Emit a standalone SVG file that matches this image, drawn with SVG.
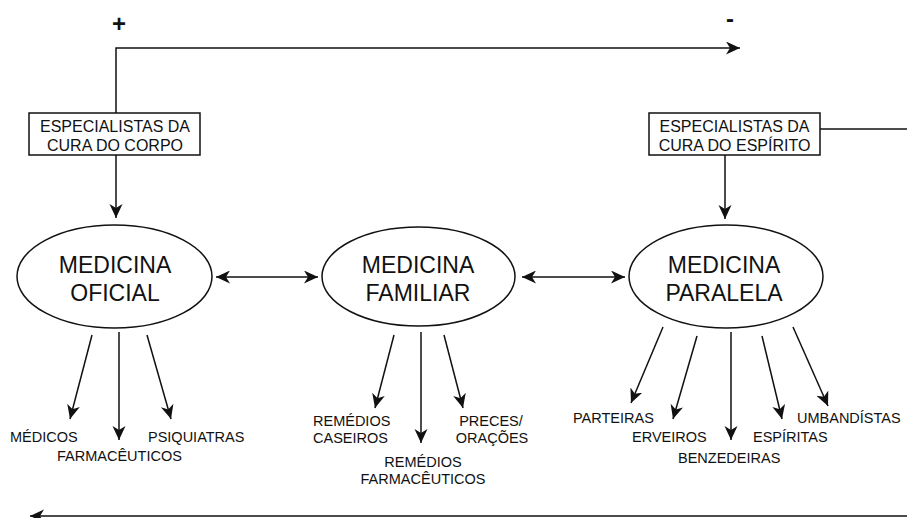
<svg xmlns="http://www.w3.org/2000/svg" width="907" height="518" viewBox="0 0 907 518">
<style>
  text { font-family: "Liberation Sans", Arial, sans-serif; fill: #111; }
  .big { font-size: 23px; text-anchor: middle; }
  .box { font-size: 16px; text-anchor: middle; }
  .lbl { font-size: 14.5px; }
  .mid { text-anchor: middle; }
  .sign { font-size: 24px; font-weight: bold; text-anchor: middle; }
  .line { stroke: #111; stroke-width: 1.5; fill: none; }
  .arr { stroke: #111; stroke-width: 1.5; fill: none; marker-end: url(#ah); }
  .darr { stroke: #111; stroke-width: 1.5; fill: none; marker-end: url(#ah); marker-start: url(#ahs); }
  .node { fill: #fff; stroke: #111; stroke-width: 1.5; }
</style>
<defs>
  <marker id="ah" markerUnits="userSpaceOnUse" markerWidth="15" markerHeight="14" refX="14" refY="6.5" orient="auto">
    <path d="M0,0 L14,6.5 L0,13 L4,6.5 z" fill="#111"/>
  </marker>
  <marker id="ahs" markerUnits="userSpaceOnUse" markerWidth="15" markerHeight="14" refX="0" refY="6.5" orient="auto">
    <path d="M14,0 L0,6.5 L14,13 L10,6.5 z" fill="#111"/>
  </marker>
</defs>
<rect width="907" height="518" fill="#fff"/>

<g id="connectors">
  <polyline class="arr" points="116,113 116,48 740,48"/>
  <line class="line" x1="820" y1="129" x2="907" y2="129"/>
  <line class="arr" x1="907" y1="516" x2="30" y2="516"/>
  <line class="arr" x1="116" y1="155" x2="116" y2="218"/>
  <line class="arr" x1="725" y1="155" x2="725" y2="219"/>
  <line class="darr" x1="216" y1="277" x2="318" y2="277"/>
  <line class="darr" x1="522" y1="277" x2="625" y2="277"/>
  <line class="arr" x1="92" y1="335" x2="70" y2="419"/>
  <line class="arr" x1="119" y1="332" x2="119" y2="440"/>
  <line class="arr" x1="147" y1="335" x2="171" y2="419"/>
  <line class="arr" x1="394" y1="335" x2="375" y2="408"/>
  <line class="arr" x1="421" y1="332" x2="421" y2="443"/>
  <line class="arr" x1="444" y1="335" x2="463" y2="408"/>
  <line class="arr" x1="663" y1="327" x2="631" y2="403"/>
  <line class="arr" x1="697" y1="336" x2="673" y2="419"/>
  <line class="arr" x1="731" y1="332" x2="731" y2="440"/>
  <line class="arr" x1="762" y1="336" x2="782" y2="419"/>
  <line class="arr" x1="793" y1="327" x2="828" y2="406"/>
</g>

<g id="plus"><text class="sign" x="119" y="32">+</text></g>
<g id="minus"><text class="sign" x="730" y="27">-</text></g>

<g id="esp-corpo">
  <rect class="node" x="29" y="113" width="171" height="42"/>
  <text class="box" x="115" y="132">ESPECIALISTAS DA</text>
  <text class="box" x="115" y="151">CURA DO CORPO</text>
</g>
<g id="esp-espirito">
  <rect class="node" x="649" y="113" width="171" height="42"/>
  <text class="box" x="734.5" y="132">ESPECIALISTAS DA</text>
  <text class="box" x="734.5" y="151">CURA DO ESPÍRITO</text>
</g>

<g id="med-oficial">
  <ellipse class="node" cx="114.5" cy="276.5" rx="97.5" ry="51.5"/>
  <text class="big" x="115" y="273">MEDICINA</text>
  <text class="big" x="115" y="301">OFICIAL</text>
</g>
<g id="med-familiar">
  <ellipse class="node" cx="418.5" cy="276.5" rx="96.5" ry="49.5"/>
  <text class="big" x="418" y="273">MEDICINA</text>
  <text class="big" x="418" y="301">FAMILIAR</text>
</g>
<g id="med-paralela">
  <ellipse class="node" cx="726" cy="276.5" rx="97" ry="51.5"/>
  <text class="big" x="724" y="273">MEDICINA</text>
  <text class="big" x="724" y="301">PARALELA</text>
</g>

<g id="medicos"><text class="lbl" x="10" y="442">MÉDICOS</text></g>
<g id="farmaceuticos"><text class="lbl" x="57" y="461">FARMACÊUTICOS</text></g>
<g id="psiquiatras"><text class="lbl" x="148" y="442">PSIQUIATRAS</text></g>

<g id="remedios-caseiros">
  <text class="lbl" x="313" y="426">REMÉDIOS</text>
  <text class="lbl" x="313" y="443">CASEIROS</text>
</g>
<g id="remedios-farmaceuticos">
  <text class="lbl mid" x="423" y="467">REMÉDIOS</text>
  <text class="lbl mid" x="423" y="484">FARMACÊUTICOS</text>
</g>
<g id="preces-oracoes">
  <text class="lbl mid" x="491" y="426">PRECES/</text>
  <text class="lbl mid" x="492" y="443">ORAÇÕES</text>
</g>

<g id="parteiras"><text class="lbl" x="573" y="423">PARTEIRAS</text></g>
<g id="erveiros"><text class="lbl" x="632" y="442">ERVEIROS</text></g>
<g id="benzedeiras"><text class="lbl" x="678" y="463">BENZEDEIRAS</text></g>
<g id="espiritas"><text class="lbl" x="753" y="442">ESPÍRITAS</text></g>
<g id="umbandistas"><text class="lbl" x="797" y="423">UMBANDÍSTAS</text></g>
</svg>
